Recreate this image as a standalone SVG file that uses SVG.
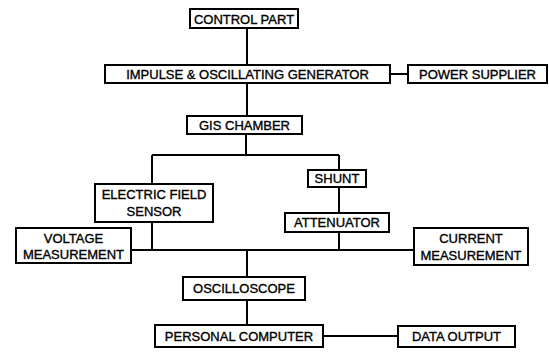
<svg xmlns="http://www.w3.org/2000/svg" width="549" height="352" viewBox="0 0 549 352">
<style>
rect{fill:#fff;stroke:#000;stroke-width:2}
text{font-family:"Liberation Sans",Arial,sans-serif;font-size:13px;fill:#000;stroke:#000;stroke-width:0.35;text-anchor:middle}
#connectors path{fill:none;stroke:#000;stroke-width:2}
</style>
<rect x="0" y="0" width="549" height="352" style="stroke:none"/>
<g id="connectors">
<path d="M247 28V65M247 83V117"/>
<path d="M390 74H408"/>
<path d="M246 134V155M152 155H339M152 155V184M339 155V170M339 187V213"/>
<path d="M131 250H414M152 222V250M339 232V250M247 250V277"/>
<path d="M247 300V325"/>
<path d="M323 336H398"/>
</g>
<g id="control"><rect x="190" y="9" width="108" height="19"/><text x="244" y="23.5">CONTROL PART</text></g>
<g id="generator"><rect x="105" y="65" width="285" height="18"/><text x="247.5" y="79">IMPULSE &amp; OSCILLATING GENERATOR</text></g>
<g id="power"><rect x="408" y="65" width="139" height="18"/><text x="477.5" y="79">POWER SUPPLIER</text></g>
<g id="gis"><rect x="187" y="116" width="115" height="18"/><text x="244.5" y="130">GIS CHAMBER</text></g>
<g id="efs"><rect x="95" y="184" width="118" height="38"/><text x="154" y="199">ELECTRIC FIELD</text><text x="154" y="216">SENSOR</text></g>
<g id="shunt"><rect x="308" y="170" width="58" height="17"/><text x="337" y="183">SHUNT</text></g>
<g id="attenuator"><rect x="285" y="213" width="104" height="19"/><text x="337" y="227">ATTENUATOR</text></g>
<g id="voltage"><rect x="16" y="228" width="115" height="35"/><text x="73.5" y="243">VOLTAGE</text><text x="73.5" y="259">MEASUREMENT</text></g>
<g id="current"><rect x="414" y="228" width="114" height="37"/><text x="471" y="243">CURRENT</text><text x="471" y="260">MEASUREMENT</text></g>
<g id="oscilloscope"><rect x="183" y="277" width="122" height="23"/><text x="244" y="293">OSCILLOSCOPE</text></g>
<g id="pc"><rect x="155" y="325" width="168" height="22"/><text x="239" y="340.5">PERSONAL COMPUTER</text></g>
<g id="data"><rect x="398" y="326" width="117" height="21"/><text x="456.5" y="341">DATA OUTPUT</text></g>
</svg>
